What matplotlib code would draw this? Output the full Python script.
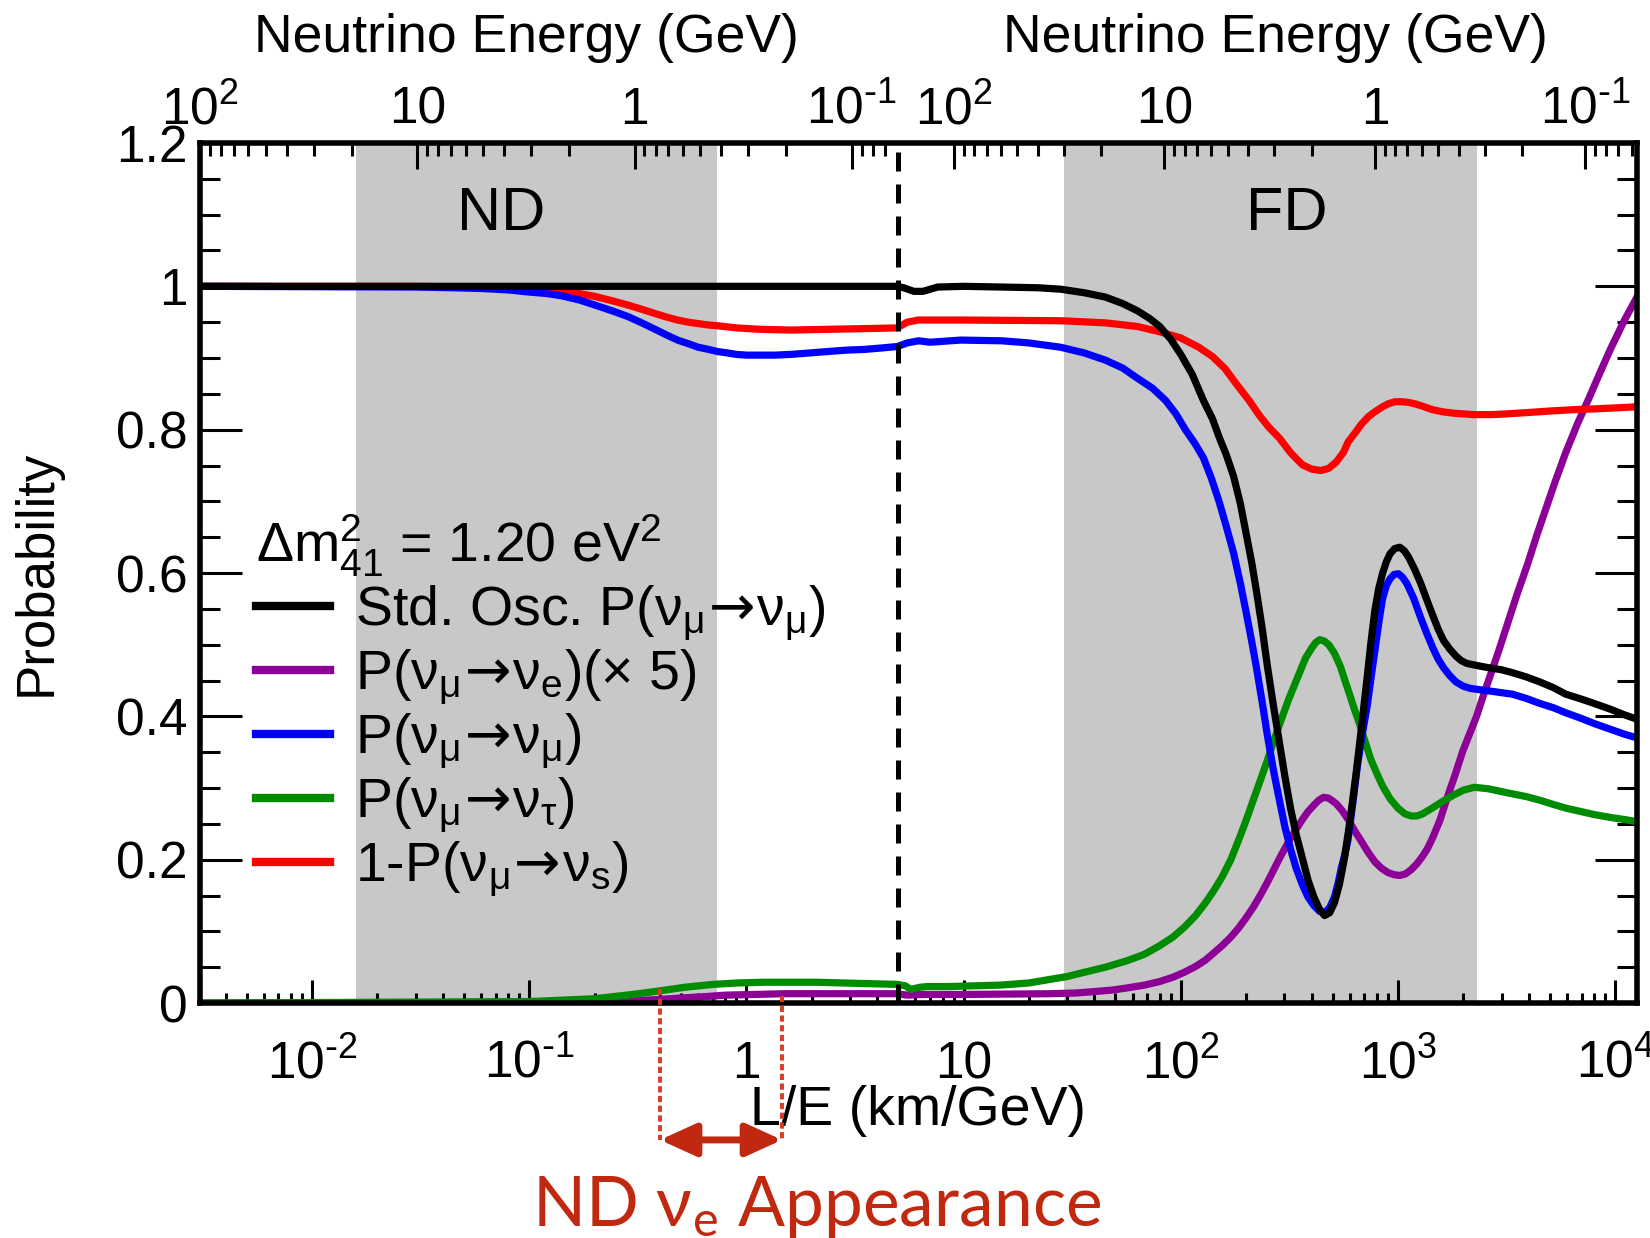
import matplotlib
matplotlib.use('Agg')
import matplotlib.pyplot as plt
from matplotlib import font_manager
from matplotlib.ticker import LogLocator, MultipleLocator, NullFormatter

installed = {f.name for f in font_manager.fontManager.ttflist}
NARROW = 'Liberation Sans Narrow' if 'Liberation Sans Narrow' in installed else 'Liberation Sans'
PLAIN = 'Liberation Sans'
CALLOUT = ['Lato', 'DejaVu Sans']

plt.rcParams['mathtext.default'] = 'regular'

# ---- values (x = L/E in km/GeV) ----
x_std = [0.00305, 1.0, 4.95, 5.3, 5.9, 6.5, 7.6, 10, 15, 22, 28, 36, 45, 54, 63, 72, 80, 90, 100, 113,
         127, 140, 150, 162, 175, 188, 200, 212, 223, 237, 250, 267, 285, 302, 320, 340, 363, 385, 410, 435,
         459, 485, 510, 538, 567, 595, 620, 643, 666, 693, 720, 750, 783, 815, 850, 885, 920, 965, 1019, 1070,
         1120, 1190, 1271, 1360, 1450, 1530, 1620, 1730, 1850, 1950, 2066, 2300, 2600, 3000, 3357, 3900, 4500, 5200, 5920, 7000,
         8000, 9500, 11060, 12600]
y_std = [1.0, 1.0, 1.0, 0.998, 0.993, 0.993, 0.999, 1.0, 0.999, 0.998, 0.996, 0.991, 0.985, 0.976, 0.966, 0.955, 0.944, 0.926, 0.905, 0.877,
         0.841, 0.815, 0.79, 0.765, 0.735, 0.697, 0.655, 0.615, 0.575, 0.523, 0.472, 0.415, 0.362, 0.315, 0.272, 0.235, 0.202, 0.172, 0.148, 0.131,
         0.122, 0.126, 0.14, 0.166, 0.202, 0.245, 0.285, 0.323, 0.362, 0.408, 0.452, 0.502, 0.548, 0.578, 0.6, 0.616, 0.627, 0.634, 0.636, 0.631,
         0.622, 0.606, 0.586, 0.562, 0.54, 0.522, 0.506, 0.494, 0.484, 0.478, 0.474, 0.471, 0.468, 0.465, 0.461, 0.455, 0.448, 0.44, 0.431, 0.424,
         0.418, 0.41, 0.402, 0.396]

x_mumu = [0.00305, 0.03, 0.045, 0.06, 0.08, 0.1, 0.12, 0.14, 0.17, 0.2, 0.24, 0.284, 0.33, 0.38, 0.43, 0.482, 0.54, 0.6, 0.67, 0.736,
          0.82, 0.9, 1.0, 1.16, 1.35, 1.6, 1.95, 2.36, 2.9, 3.5, 4.2, 4.95, 5.5, 6.2, 7.0, 9.7, 15, 20, 28, 36,
          45, 54, 63, 74, 85, 95, 105, 116, 127, 138, 150, 162, 175, 188, 200, 212, 223, 237, 250, 267,
          285, 302, 320, 340, 363, 385, 410, 435, 459, 485, 510, 530, 550, 570, 590, 620, 650, 685, 722, 755,
          790, 820, 849, 885, 920, 960, 1005, 1050, 1100, 1180, 1271, 1360, 1450, 1530, 1620, 1730, 1850, 2000, 2152, 2400,
          2700, 3000, 3357, 3900, 4500, 5200, 5920, 7000, 8000, 9500, 11060, 12600]
y_mumu = [1.0, 0.999, 0.998, 0.997, 0.995, 0.992, 0.99, 0.987, 0.981, 0.974, 0.966, 0.958, 0.949, 0.94, 0.932, 0.925, 0.92, 0.915, 0.912, 0.909,
          0.907, 0.905, 0.904, 0.904, 0.904, 0.905, 0.907, 0.909, 0.911, 0.912, 0.914, 0.916, 0.921, 0.924, 0.922, 0.925, 0.924, 0.921, 0.915, 0.907,
          0.897, 0.886, 0.872, 0.858, 0.841, 0.822, 0.80, 0.781, 0.761, 0.733, 0.70, 0.665, 0.628, 0.586, 0.545, 0.505, 0.468, 0.42, 0.375, 0.325,
          0.282, 0.245, 0.215, 0.188, 0.165, 0.148, 0.136, 0.128, 0.126, 0.133, 0.148, 0.167, 0.19, 0.208, 0.229, 0.28, 0.33, 0.375, 0.415, 0.458,
          0.5, 0.535, 0.564, 0.583, 0.592, 0.598, 0.599, 0.594, 0.585, 0.565, 0.538, 0.515, 0.495, 0.48, 0.468, 0.457, 0.448, 0.442, 0.439, 0.437,
          0.435, 0.433, 0.431, 0.425, 0.418, 0.412, 0.405, 0.397, 0.39, 0.382, 0.375, 0.37]

x_sterile = [0.00305, 0.03, 0.06, 0.08, 0.1, 0.12, 0.14, 0.17, 0.2, 0.24, 0.284, 0.33, 0.38, 0.43, 0.482, 0.54, 0.6, 0.67, 0.736, 0.9,
             1.16, 1.6, 2.36, 3.5, 4.95, 5.5, 6.2, 10, 28, 45, 63, 79, 100, 121, 140, 160, 180, 206, 230, 255,
             285, 320, 363, 400, 441, 480, 520, 560, 590, 640, 680, 730, 783, 850, 900, 970, 1040, 1120, 1200, 1320,
             1437, 1600, 1800, 2000, 2244, 2700, 3160, 4000, 5000, 6500, 8000, 11060, 12600]
y_sterile = [1.0, 1.0, 0.999, 0.998, 0.997, 0.995, 0.993, 0.99, 0.986, 0.98, 0.974, 0.968, 0.962, 0.957, 0.953, 0.95, 0.948, 0.946, 0.945, 0.942,
             0.94, 0.939, 0.94, 0.941, 0.942, 0.95, 0.953, 0.953, 0.952, 0.949, 0.944, 0.937, 0.928, 0.915, 0.902, 0.885, 0.864, 0.841, 0.82, 0.803,
             0.788, 0.768, 0.751, 0.745, 0.743, 0.746, 0.755, 0.768, 0.783, 0.797, 0.808, 0.818, 0.825, 0.832, 0.836, 0.839, 0.839, 0.838, 0.836, 0.832,
             0.828, 0.825, 0.823, 0.822, 0.821, 0.821, 0.822, 0.824, 0.826, 0.828, 0.829, 0.831, 0.832]

x_tau = [0.00305, 0.1, 0.2, 0.3, 0.4, 0.52, 0.7, 0.91, 1.2, 1.59, 2.1, 2.78, 3.7, 4.95, 5.4, 5.7, 6.3, 6.8, 8.5, 14.8,
         20, 25, 30, 35, 45, 56.5, 68, 80, 92, 104, 117, 130, 142, 155, 170, 185, 200, 215, 232, 250,
         267, 285, 315, 349, 375, 400, 418, 436, 458, 480, 510, 544, 570, 600, 630, 666, 705, 750, 800, 849,
         920, 1000, 1075, 1151, 1220, 1300, 1437, 1600, 1800, 2000, 2244, 2600, 3227, 3900, 4500, 5200, 5920, 7000, 8000, 9500,
         11060, 12600]
y_tau = [0.0, 0.002, 0.006, 0.012, 0.017, 0.022, 0.026, 0.028, 0.029, 0.029, 0.029, 0.028, 0.027, 0.026, 0.024, 0.019, 0.022, 0.023, 0.023, 0.025,
         0.028, 0.033, 0.037, 0.042, 0.05, 0.059, 0.068, 0.08, 0.092, 0.106, 0.122, 0.14, 0.157, 0.176, 0.2, 0.228, 0.255, 0.282, 0.31, 0.338,
         0.364, 0.389, 0.425, 0.458, 0.481, 0.495, 0.503, 0.507, 0.505, 0.5, 0.488, 0.469, 0.45, 0.43, 0.41, 0.389, 0.365, 0.34, 0.32, 0.303,
         0.285, 0.272, 0.264, 0.261, 0.261, 0.264, 0.272, 0.281, 0.29, 0.297, 0.301, 0.299, 0.293, 0.288, 0.283, 0.277, 0.272, 0.267, 0.263, 0.259,
         0.256, 0.253]

x_e = [0.00305, 0.2, 0.3, 0.4, 0.5, 0.65, 0.8, 1.1, 1.5, 3.0, 4.95, 5.5, 6.5, 10, 25, 33, 40, 48, 56.5, 68,
       80, 92, 104, 117, 130, 142, 155, 170, 185, 200, 215, 232, 250, 267, 285, 320, 363, 385, 410, 432,
       454, 478, 500, 520, 555, 590, 630, 680, 730, 783, 840, 900, 960, 1019, 1080, 1150, 1220, 1300, 1370, 1437,
       1560, 1700, 1840, 1985, 2140, 2300, 2460, 2632, 2900, 3200, 3550, 3947, 4350, 4800, 5300, 5920, 6700, 7550, 8500, 9500,
       11000, 12600]
y_e5 = [0.0, 0.001, 0.003, 0.005, 0.007, 0.009, 0.011, 0.012, 0.013, 0.013, 0.013, 0.011, 0.012, 0.012, 0.013, 0.014, 0.016, 0.018, 0.021, 0.025,
        0.03, 0.036, 0.043, 0.051, 0.06, 0.07, 0.08, 0.092, 0.105, 0.119, 0.133, 0.15, 0.168, 0.185, 0.202, 0.23, 0.256, 0.267, 0.276, 0.283,
        0.287, 0.286, 0.282, 0.278, 0.268, 0.256, 0.241, 0.225, 0.21, 0.197, 0.188, 0.182, 0.179, 0.178, 0.18, 0.186, 0.194, 0.205, 0.216, 0.229,
        0.255, 0.29, 0.32, 0.351, 0.376, 0.4, 0.427, 0.453, 0.49, 0.53, 0.572, 0.612, 0.652, 0.69, 0.728, 0.768, 0.808, 0.843, 0.879, 0.912,
        0.952, 0.985]

ARROW = '$\\!\\mathsf{\\rightarrow}\\!$'
labels = ['Std. Osc. P(ν$_\\mu$' + ARROW + 'ν$_\\mu$)', 'P(ν$_\\mu$' + ARROW + 'ν$_e$)(× 5)',
          'P(ν$_\\mu$' + ARROW + 'ν$_\\mu$)', 'P(ν$_\\mu$' + ARROW + 'ν$_\\tau$)',
          '1-P(ν$_\\mu$' + ARROW + 'ν$_s$)']
legend_title = 'Δm$^2_{41}$ = 1.20 eV$^2$'

nd_band = (0.0159, 0.736)      # shaded ND region in L/E
fd_band = (29, 2310)           # shaded FD region in L/E
join_le = 5.0                  # where ND and FD panels meet
nd_app = (0.40, 1.46)          # ND nu_e appearance window

x_major = [1e-2, 1e-1, 1, 10, 1e2, 1e3, 1e4]
x_major_labels = ['10$^{\\text{-}2}$', '10$^{\\text{-}1}$', '1', '10', '10$^2$', '10$^3$', '10$^4$']
y_major = [0, 0.2, 0.4, 0.6, 0.8, 1.0, 1.2]
y_major_labels = ['0', '0.2', '0.4', '0.6', '0.8', '1', '1.2']

e_major = [100, 10, 1, 0.1]
e_major_labels = ['10$^2$', '10', '1', '10$^{\\text{-}1}$']
L_ND = 0.3055                  # top ND energy scale: L/E = L_ND / E
X_FD_100, FD_SLOPE = 9.03, 0.969   # top FD energy scale as drawn

# ---- figure ----
fig = plt.figure(figsize=(16.5, 12.38), dpi=100)
ax = fig.add_axes([0.1212, 0.1898, 0.8709, 0.6947])
ax.set_xscale('log')
ax.set_xlim(0.00305, 12600)
ax.set_ylim(0, 1.2)

ax.axvspan(*nd_band, color='#c8c8c8', lw=0, zorder=0)
ax.axvspan(*fd_band, color='#c8c8c8', lw=0, zorder=0)

lw = 5.2
l_e, = ax.plot(x_e, y_e5, color='#8c0096', lw=lw, zorder=2, solid_joinstyle='round')
l_tau, = ax.plot(x_tau, y_tau, color='#008c00', lw=lw, zorder=2.1, solid_joinstyle='round')
l_s, = ax.plot(x_sterile, y_sterile, color='#ff0000', lw=lw, zorder=2.2, solid_joinstyle='round')
l_mu, = ax.plot(x_mumu, y_mumu, color='#0000ff', lw=lw, zorder=2.3, solid_joinstyle='round')
l_std, = ax.plot(x_std, y_std, color='black', lw=lw, zorder=2.4, solid_joinstyle='round')

ax.axvline(join_le, color='black', lw=3.6, linestyle=(0, (3.8, 2.6)), zorder=3)

ax.text(0.074, 1.10, 'ND', ha='center', va='center', fontsize=44, family=PLAIN)
ax.text(307, 1.10, 'FD', ha='center', va='center', fontsize=44, family=PLAIN)

# axes styling
for sp in ax.spines.values():
    sp.set_linewidth(4.0)
ax.set_xticks(x_major, labels=x_major_labels)
ax.xaxis.set_minor_locator(LogLocator(base=10, subs=range(2, 10), numticks=30))
ax.xaxis.set_minor_formatter(NullFormatter())
ax.set_yticks(y_major, labels=y_major_labels)
ax.yaxis.set_minor_locator(MultipleLocator(0.05))
ax.tick_params(axis='x', which='both', direction='in', top=False, bottom=True,
               labelsize=37, labelfontfamily=NARROW, pad=54, width=2.2)
ax.tick_params(axis='x', which='major', length=16.6)
ax.tick_params(axis='x', which='minor', length=7.2)
for t in ax.get_xticklabels():
    t.set_va('baseline')
ax.tick_params(axis='y', which='both', direction='in', left=True, right=True,
               labelsize=37, labelfontfamily=NARROW, pad=9, width=2.2)
ax.tick_params(axis='y', which='major', length=30)
ax.tick_params(axis='y', which='minor', length=14.4)

ax.set_xlabel('L/E (km/GeV)', fontsize=40, family=NARROW, va='center')
ax.xaxis.set_label_coords(0.5, -0.125)
ax.set_ylabel('Probability', fontsize=38, family=PLAIN, va='center')
ax.yaxis.set_label_coords(-0.1134, 0.5)

# top energy axes (ND panel left of the join, FD panel right of it)
lo, hi = ax.get_xlim()
top_major, top_labels, top_minor = [], [], []
for e, lab in zip(e_major, e_major_labels):
    top_major += [L_ND / e, X_FD_100 * (100.0 / e) ** FD_SLOPE]
    top_labels += [lab, lab]
for n in range(-2, 2):
    for k in range(2, 10):
        e = k * 10.0 ** n
        p_nd = L_ND / e
        p_fd = X_FD_100 * (100.0 / e) ** FD_SLOPE
        if lo < p_nd < join_le * 0.99:
            top_minor.append(p_nd)
        if e < 100 and p_fd < hi:
            top_minor.append(p_fd)

ax_top = ax.twiny()
ax_top.set_xscale('log')
ax_top.set_xlim(lo, hi)
for sp in ax_top.spines.values():
    sp.set_visible(False)
ax_top.set_xticks(top_major, labels=top_labels)
ax_top.set_xticks(top_minor, minor=True)
ax_top.xaxis.set_minor_formatter(NullFormatter())
ax_top.tick_params(axis='x', which='both', direction='in', top=True, bottom=False,
                   labeltop=True, labelbottom=False, labelsize=37, labelfontfamily=NARROW,
                   pad=13.7, width=2.2)
ax_top.tick_params(axis='x', which='major', length=18.7)
ax_top.tick_params(axis='x', which='minor', length=9.4)
for t in ax_top.get_xticklabels():
    t.set_va('baseline')

fig.text(0.3188, 0.969, 'Neutrino Energy (GeV)', ha='center', va='center', fontsize=38.5, family=NARROW)
fig.text(0.7727, 0.969, 'Neutrino Energy (GeV)', ha='center', va='center', fontsize=38.5, family=NARROW)

# legend
leg = ax.legend([l_std, l_e, l_mu, l_tau, l_s], labels, loc='upper left',
                bbox_to_anchor=(0.039, 0.57), frameon=False,
                prop={'family': NARROW, 'size': 40}, title=legend_title,
                title_fontproperties={'family': NARROW, 'size': 40}, alignment='left',
                handlelength=1.33, handletextpad=0.45, labelspacing=0.09,
                borderpad=0, borderaxespad=0)
for h in leg.get_lines():
    h.set_linewidth(6.0)

# ND nu_e appearance call-out
app_red = '#c0280f'
ax.plot([nd_app[0], nd_app[0]], [0.02, -0.191], color='#d83a22', lw=2.8,
        linestyle=(0, (1.6, 0.9)), clip_on=False, zorder=4)
ax.plot([nd_app[1], nd_app[1]], [0.01, -0.191], color='#d83a22', lw=2.8,
        linestyle=(0, (1.6, 0.9)), clip_on=False, zorder=4)
ax.annotate('', xy=(nd_app[1], -0.191), xytext=(nd_app[0], -0.191),
            arrowprops=dict(arrowstyle='<|-|>,head_length=1.1,head_width=0.5', lw=5,
                            color=app_red, shrinkA=0, shrinkB=0, mutation_scale=20),
            annotation_clip=False)
fig.text(0.4952, 0.0097, 'ND ν$_e$ Appearance', ha='center', va='baseline',
         fontsize=50, family=CALLOUT, color=app_red)

fig.savefig('out.png', dpi=100)
